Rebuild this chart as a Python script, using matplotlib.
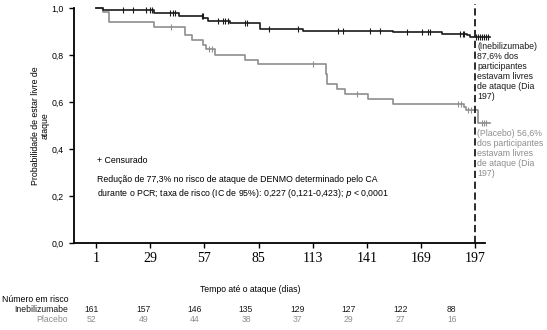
import matplotlib.pyplot as plt
import numpy as np

plt.rcParams['font.family'] = ['Liberation Sans', 'DejaVu Sans']

# curva Kaplan-Meier (tempo do degrau, sobrevida depois do degrau)
ine_t = [1, 4.6, 31, 44, 56.5, 59, 70.3, 85.8, 108, 154.7, 179.7, 192.6, 194.4]
ine_s = [1.0, 0.99, 0.977, 0.966, 0.956, 0.945, 0.935, 0.911, 0.903, 0.897, 0.889, 0.883, 0.876]
ine_cens = [15, 20, 27, 29, 29.8, 39, 40.6, 41.8, 55.6, 56.2, 64, 66.7, 67.7, 69, 78, 79,
            90.6, 105.6, 126.3, 128.5, 142.7, 147.8, 161.7, 169.4, 172.8, 173.7, 189.2,
            190.6, 191.4, 197.5, 198.5, 199.5, 200.5, 201.5, 202.5, 203.5]

pla_t = [1, 4.6, 7.7, 31, 47, 50.6, 56.3, 57.7, 62.5, 78, 84.8, 119.8, 120.6, 125.5,
         129.7, 141.8, 154.4, 191, 192.5, 198.7]
pla_s = [1.0, 0.982, 0.939, 0.921, 0.887, 0.865, 0.844, 0.825, 0.802, 0.78, 0.762, 0.718,
         0.677, 0.654, 0.633, 0.611, 0.590, 0.578, 0.566, 0.51]
pla_cens = [39.8, 59.5, 61, 113, 135.8, 188, 189.7, 193.5, 195, 200.6, 201.6, 202.6]

t_end = 204.5
ticks = [1, 29, 57, 85, 113, 141, 169, 197]
risco_ine = [161, 157, 146, 135, 129, 127, 122, 88]
risco_pla = [52, 49, 44, 38, 37, 29, 27, 16]

preto = '#1a1a1a'
cinza = '#8e8e8e'

fig = plt.figure(figsize=(5.47, 3.3), dpi=100)
ax = fig.add_axes([74/547, 1 - 243/330, 411/547, 235/330])


def nivel(ts, ss, x):
    i = np.searchsorted(ts, x, side='right') - 1
    return np.array(ss)[i]


for ts, ss, cens, cor in [(pla_t, pla_s, pla_cens, cinza), (ine_t, ine_s, ine_cens, preto)]:
    ax.step(list(ts) + [t_end], list(ss) + [ss[-1]], where='post', color=cor, lw=1.2,
            clip_on=False)
    ax.plot(cens, nivel(ts, ss, cens), ls='none', marker='|', ms=5, mew=0.8,
            color=cor, clip_on=False)

ax.plot([197, 197], [0, 1.015], color=preto, lw=1.3, ls=(0, (4, 2)), clip_on=False)

ax.set_xlim(-10.4, 202.1)
ax.set_ylim(0, 1.0)
ax.set_xticks(ticks)
ax.set_xticklabels([str(t) for t in ticks], family='Liberation Serif', fontsize=10)
ax.set_yticks([0, 0.2, 0.4, 0.6, 0.8, 1.0])
ax.set_yticklabels(['0,0', '0,2', '0,4', '0,6', '0,8', '1,0'], fontsize=6.3)
ax.tick_params(axis='y', length=3.5, width=1, pad=4)
ax.tick_params(axis='x', length=3.5, width=1, pad=3)
for s in ['top', 'right']:
    ax.spines[s].set_visible(False)
for s in ['left', 'bottom']:
    ax.spines[s].set_linewidth(1.3)
ax.set_ylabel('Probabilidade de estar livre de\nataque', fontsize=6.3, linespacing=1.05,
              labelpad=1.5)

ax.text(198, 0.855, '(Inebilizumabe)\n87,6% dos\nparticipantes\nestavam livres\nde ataque (Dia\n197)',
        fontsize=6.3, color=preto, va='top', ha='left', linespacing=1.15, clip_on=False)
ax.text(198, 0.487, '(Placebo) 56,6%\ndos participantes\nestavam livres\nde ataque (Dia\n197)',
        fontsize=6.3, color=cinza, va='top', ha='left', linespacing=1.15, clip_on=False)

ax.text(1.5, 0.353, '+ Censurado', fontsize=6.3, va='center', ha='left')
ax.text(1.5, 0.29, 'Redução de 77,3% no risco de ataque de DENMO determinado pelo CA\n'
        'durante o PCR; taxa de risco (IC de 95%): 0,227 (0,121-0,423); $\\it{p}$ < 0,0001',
        fontsize=6.3, va='top', ha='left', linespacing=1.3)

fig.text(250/547, 1 - 289/330, 'Tempo até o ataque (dias)', fontsize=6.2,
         ha='center', va='center')

# tabela de número em risco
fig.text(68/547, 1 - 300/330, 'Número em risco', fontsize=6.2, ha='right', va='center')
fig.text(68/547, 1 - 309.5/330, 'Inebilizumabe', fontsize=6.2, ha='right', va='center',
         color=preto)
fig.text(68/547, 1 - 319.5/330, 'Placebo', fontsize=6.2, ha='right', va='center', color=cinza)

axr = fig.add_axes([91.7/547, 0, 360/547, 30/330])
axr.set_xlim(0, len(ticks) - 1)
axr.set_ylim(0, 30)
axr.axis('off')
for i in range(len(ticks)):
    axr.text(i, 20.5, str(risco_ine[i]), fontsize=6.2, ha='center', va='center', color=preto)
    axr.text(i, 10.5, str(risco_pla[i]), fontsize=6.2, ha='center', va='center', color=cinza)

fig.savefig('out.png', dpi=100)
